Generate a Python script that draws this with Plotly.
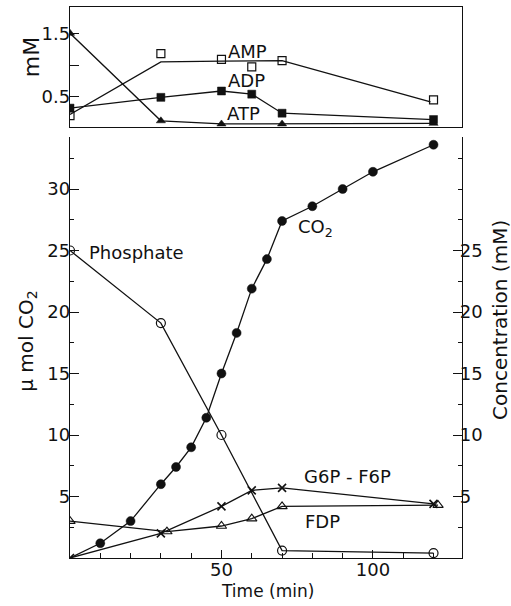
import plotly.graph_objects as go

# ---------------- data ----------------
# bottom panel (time in min)
co2_t = [0, 10, 20, 30, 35, 40, 45, 50, 55, 60, 65, 70, 80, 90, 100, 120]
co2_v = [0, 1.2, 3.0, 6.0, 7.4, 9.0, 11.4, 15.0, 18.3, 21.9, 24.3, 27.4, 28.6, 30.0, 31.4, 33.6]

phos_t = [0, 30, 50, 70, 120]
phos_v = [25.0, 19.1, 10.0, 0.6, 0.4]

g6p_t = [0, 30, 50, 60, 70, 120]
g6p_v = [0.0, 2.0, 4.2, 5.5, 5.7, 4.4]

fdp_t = [0, 32, 50, 60, 70, 121.5]
fdp_v = [3.0, 2.15, 2.6, 3.2, 4.2, 4.3]

# top panel (mM)
nuc_t = [0, 30, 50, 60, 70, 120]
amp_v = [0.20, 1.18, 1.09, 0.97, 1.07, 0.45]
amp_fit_t = [0, 30, 50, 70, 119]
amp_fit_v = [0.22, 1.05, 1.06, 1.07, 0.42]
adp_v = [0.32, 0.49, 0.59, 0.54, 0.24, 0.14]
atp_t = [0, 30, 50, 70, 120]
atp_v = [1.50, 0.12, 0.07, 0.07, 0.08]

left_ticks = [5, 10, 15, 20, 25, 30]
right_ticks = [5, 10, 15, 20, 25]
x_ticks = [50, 100]
top_ticks = [0.5, 1.0, 1.5]
top_ticktext = ["0.5", "", "1.5"]

FONT = "DejaVu Sans"
BLACK = "#111111"
LW = 1.3

fig = go.Figure()

# ---- top panel ----
fig.add_trace(go.Scatter(x=amp_fit_t, y=amp_fit_v, mode="lines", xaxis="x2", yaxis="y2",
                         line=dict(color=BLACK, width=LW), showlegend=False, hoverinfo="skip"))
fig.add_trace(go.Scatter(x=nuc_t, y=amp_v, mode="markers", xaxis="x2", yaxis="y2", name="AMP",
                         marker=dict(symbol="square-open", size=8, color=BLACK, line=dict(width=1.2)),
                         showlegend=False))
fig.add_trace(go.Scatter(x=nuc_t, y=adp_v, mode="lines+markers", xaxis="x2", yaxis="y2", name="ADP",
                         line=dict(color=BLACK, width=LW),
                         marker=dict(symbol="square", size=8, color=BLACK, line=dict(width=0.5, color=BLACK)),
                         showlegend=False))
fig.add_trace(go.Scatter(x=atp_t, y=atp_v, mode="lines+markers", xaxis="x2", yaxis="y2", name="ATP",
                         line=dict(color=BLACK, width=LW),
                         marker=dict(symbol="triangle-up", size=8, color=BLACK, line=dict(width=0.5, color=BLACK)),
                         showlegend=False))

# ---- bottom panel ----
fig.add_trace(go.Scatter(x=co2_t, y=co2_v, mode="lines+markers", name="CO2",
                         line=dict(color=BLACK, width=LW),
                         marker=dict(symbol="circle", size=[0] + [9] * (len(co2_t) - 1), color=BLACK,
                                     opacity=1, line=dict(width=0.5, color=BLACK)),
                         showlegend=False))
fig.add_trace(go.Scatter(x=phos_t, y=phos_v, mode="lines+markers", yaxis="y3", name="Phosphate",
                         line=dict(color=BLACK, width=LW),
                         marker=dict(symbol="circle-open", size=9, color=BLACK, line=dict(width=1.2)),
                         showlegend=False))
fig.add_trace(go.Scatter(x=g6p_t, y=g6p_v, mode="lines+markers", yaxis="y3", name="G6P - F6P",
                         line=dict(color=BLACK, width=LW),
                         marker=dict(symbol="x-thin-open", size=8, color=BLACK, line=dict(width=1.6, color=BLACK)),
                         showlegend=False))
fig.add_trace(go.Scatter(x=fdp_t, y=fdp_v, mode="lines+markers", yaxis="y3", name="FDP",
                         line=dict(color=BLACK, width=LW),
                         marker=dict(symbol="triangle-up-open", size=9, color=BLACK, line=dict(width=1.1)),
                         showlegend=False))

XR = [0, 129.4]
axis_common = dict(showgrid=False, zeroline=False, linecolor=BLACK, linewidth=LW,
                   tickcolor=BLACK, tickfont=dict(family=FONT, size=18, color=BLACK))

fig.update_layout(
    width=511, height=606,
    margin=dict(l=70, r=49, t=7, b=48),
    paper_bgcolor="white", plot_bgcolor="white",
    font=dict(family=FONT, size=18, color=BLACK),
    xaxis=dict(domain=[0, 1], range=XR, anchor="y", showline=True, ticks="inside",
               tickvals=x_ticks, ticklen=8, tickwidth=1.2, ticklabelstandoff=-5,
               minor=dict(dtick=10, tick0=0, ticks="inside", ticklen=5, tickcolor=BLACK),
               **axis_common),
    yaxis=dict(domain=[0, 0.7641], range=[0, 34.23], anchor="x", showline=True, ticks="inside",
               tickvals=left_ticks, ticklen=9, tickwidth=1.2, ticklabelstandoff=-5,
               minor=dict(dtick=2.5, tick0=0, ticks="inside", ticklen=4, tickcolor=BLACK),
               **axis_common),
    yaxis3=dict(range=[0, 34.23], overlaying="y", side="right", anchor="x", showline=True,
                ticks="inside", tickvals=right_ticks, ticklen=9, tickwidth=1.2, ticklabelstandoff=-7,
                minor=dict(dtick=2.5, tick0=0, ticks="inside", ticklen=4, tickcolor=BLACK),
                **axis_common),
    xaxis2=dict(domain=[0, 1], range=XR, anchor="y2", showline=True, mirror=True,
                ticks="", showticklabels=False, **axis_common),
    yaxis2=dict(domain=[0.7822, 1.0], range=[0.022, 1.915], anchor="x2", showline=True, mirror=True,
                ticks="inside", tickvals=top_ticks, ticktext=top_ticktext, ticklen=9, tickwidth=1.2,
                ticklabelstandoff=-5, **axis_common),
)

ann_font = dict(family=FONT, size=18, color=BLACK)
labels = [
    ("AMP", 58.7, 1.22, "x2", "y2"),
    ("ADP", 58.4, 0.76, "x2", "y2"),
    ("ATP", 57.4, 0.23, "x2", "y2"),
    ("Phosphate", 22.1, 24.8, "x", "y"),
    ("CO<sub>2</sub>", 81.2, 26.8, "x", "y"),
    ("G6P - F6P", 91.7, 6.6, "x", "y"),
    ("FDP", 83.2, 2.93, "x", "y"),
]
for txt, xv, yv, xr, yr in labels:
    fig.add_annotation(text=txt, x=xv, y=yv, xref=xr, yref=yr, showarrow=False,
                       font=ann_font, xanchor="center", yanchor="middle")

titles = [
    ("mM", -0.0995, 0.909, -90, 22),
    ("\u03bc mol CO<sub>2</sub>", -0.11, 0.394, -90, 20),
    ("Concentration (mM)", 1.097, 0.432, -90, 20),
    ("Time (min)", 0.5026, -0.06, 0, 17),
]
for txt, xv, yv, ang, fs in titles:
    fig.add_annotation(text=txt, x=xv, y=yv, xref="paper", yref="paper", showarrow=False,
                       font=dict(family=FONT, size=fs, color=BLACK), textangle=ang,
                       xanchor="center", yanchor="middle")

fig.write_html("out.html", config={"displayModeBar": False},
               post_script="document.body.style.margin='0px';")
